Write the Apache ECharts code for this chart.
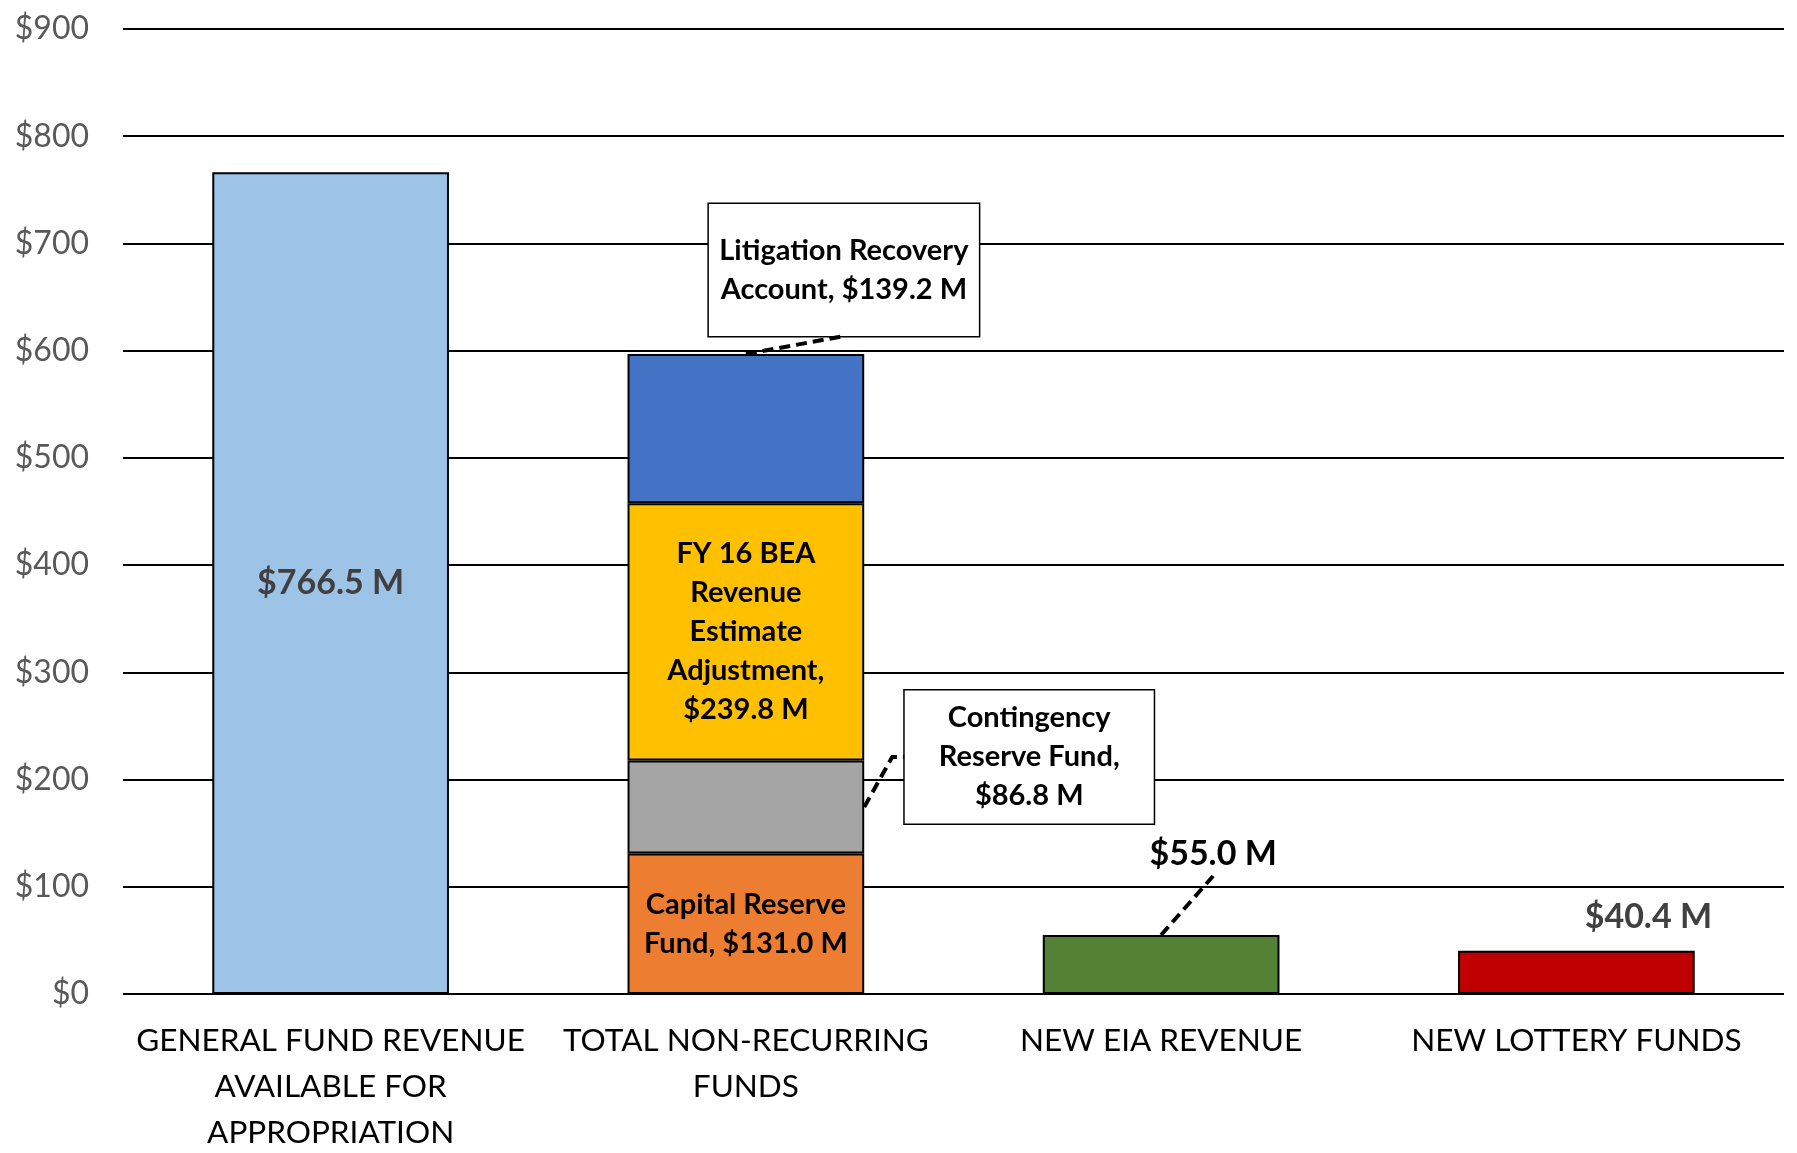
<!DOCTYPE html>
<html>
<head>
    <meta charset="utf-8">
    <title>Revenue Chart</title>
    <script src="https://cdn.jsdelivr.net/npm/echarts@6/dist/echarts.min.js"></script>
    <style>
        html, body { margin: 0; padding: 0; background: #fff; }
        #chart { width: 1797px; height: 1153px; }
    </style>
</head>
<body>
<div id="chart"></div>
<script type="text/javascript">
    // 分类与数据
    var categories = ['GENERAL FUND REVENUE\nAVAILABLE FOR\nAPPROPRIATION', 'TOTAL NON-RECURRING\nFUNDS', 'NEW EIA REVENUE', 'NEW LOTTERY FUNDS'];
    var generalFund = [766.5, '-', '-', '-'];
    var capitalReserve = ['-', 131.0, '-', '-'];
    var contingencyReserve = ['-', 86.8, '-', '-'];
    var fy16Bea = ['-', 239.8, '-', '-'];
    var litigationRecovery = ['-', 139.2, '-', '-'];
    var newEia = ['-', '-', 55.0, '-'];
    var newLottery = ['-', '-', '-', 40.4];
    var yTicks = [0, 900, 100];

    function money(v) {
        return '$' + v.toFixed(1) + ' M';
    }

    var myChart = echarts.init(document.getElementById('chart'));
    var font = 'Lato, "Noto Sans", sans-serif';
    var border = { borderColor: '#000', borderWidth: 2 };
    var gapPct = 43;

    // 标注框的偏移
    var litDx = 98, litDist = 18;
    var conDx = 125, conDy = -50, conDist = 40;
    var eiaDx = 52, eiaDist = 61;

    function bar(name, data, color, label, extra) {
        var s = {
            name: name,
            type: 'bar',
            stack: 'total',
            barCategoryGap: gapPct + '%',
            data: data,
            itemStyle: Object.assign({ color: color }, border),
            label: Object.assign({
                show: true,
                fontFamily: font,
                fontWeight: 'bold',
                fontSize: 29,
                lineHeight: 39,
                color: '#000'
            }, label)
        };
        return Object.assign(s, extra || {});
    }

    myChart.setOption({
        animation: false,
        grid: { left: 123, right: 13, top: 29, bottom: 159, outerBoundsMode: 'none' },
        xAxis: {
            type: 'category',
            data: categories,
            axisLine: { show: false },
            axisTick: { show: false },
            axisLabel: {
                interval: 0,
                margin: 24,
                fontFamily: font,
                fontSize: 31.5,
                lineHeight: 46,
                color: '#000'
            }
        },
        yAxis: {
            type: 'value',
            min: yTicks[0],
            max: yTicks[1],
            interval: yTicks[2],
            axisLine: { show: false },
            axisTick: { show: false },
            axisLabel: {
                margin: 34,
                fontFamily: font,
                fontSize: 32,
                color: '#595959',
                formatter: function (v) { return '$' + v; }
            },
            splitLine: { lineStyle: { color: '#000', width: 2 } }
        },
        series: [
            bar('General Fund', generalFund, '#9DC3E6', {
                position: 'inside', fontSize: 34, color: '#404040',
                formatter: function (p) { return money(p.value); }
            }),
            bar('Capital Reserve Fund', capitalReserve, '#ED7D31', {
                position: 'inside',
                formatter: function (p) { return 'Capital Reserve\nFund, ' + money(p.value); }
            }),
            bar('Contingency Reserve Fund', contingencyReserve, '#A5A5A5', {
                position: 'right', distance: conDist,
                width: 241, align: 'center',
                backgroundColor: '#fff', borderColor: '#000', borderWidth: 1.5,
                padding: [8, 4],
                formatter: function (p) { return 'Contingency\nReserve Fund,\n' + money(p.value); }
            }, { labelLayout: { dx: conDx, dy: conDy } }),
            bar('FY 16 BEA Revenue Estimate Adjustment', fy16Bea, '#FFC000', {
                position: 'inside',
                formatter: function (p) { return 'FY 16 BEA\nRevenue\nEstimate\nAdjustment,\n' + money(p.value); }
            }),
            bar('Litigation Recovery Account', litigationRecovery, '#4472C4', {
                position: 'top', distance: litDist,
                width: 262, align: 'center',
                backgroundColor: '#fff', borderColor: '#000', borderWidth: 1.5,
                padding: [27, 4],
                formatter: function (p) { return 'Litigation Recovery\nAccount, ' + money(p.value); }
            }, { labelLayout: { dx: litDx } }),
            bar('New EIA Revenue', newEia, '#548235', {
                position: 'top', distance: eiaDist, fontSize: 34,
                formatter: function (p) { return money(p.value); }
            }, { labelLayout: { dx: eiaDx } }),
            bar('New Lottery Funds', newLottery, '#C00000', {
                position: 'top', distance: 14, fontSize: 34, color: '#404040',
                formatter: function (p) { return money(p.value); }
            }, { labelLayout: { dx: 72 } })
        ]
    });

    // 虚线引线：用坐标轴换算出柱子位置
    function px(cat, val) {
        return myChart.convertToPixel({ gridIndex: 0 }, [cat, val]);
    }
    var band = px(2, 0)[0] - px(1, 0)[0];
    var halfBar = band * (1 - gapPct / 100) / 2;

    var stackTop = capitalReserve[1] + contingencyReserve[1] + fy16Bea[1] + litigationRecovery[1];
    var litStart = px(1, stackTop);
    var conStart = px(1, capitalReserve[1] + contingencyReserve[1] / 2);
    conStart[0] += halfBar;
    var conEnd = [conStart[0] + conDist, conStart[1] + conDy];
    var eiaStart = px(2, newEia[2]);

    function leader(points) {
        return {
            type: 'polyline',
            shape: { points: points },
            style: { stroke: '#000', lineWidth: 4, lineDash: [11, 6], fill: null },
            z: 100
        };
    }

    myChart.setOption({
        graphic: [
            leader([litStart, [litStart[0] + litDx, litStart[1] - litDist]]),
            leader([conStart, [conEnd[0] - 12, conEnd[1]], conEnd]),
            leader([eiaStart, [eiaStart[0] + eiaDx, eiaStart[1] - eiaDist + 2]])
        ]
    });
</script>
</body>
</html>
